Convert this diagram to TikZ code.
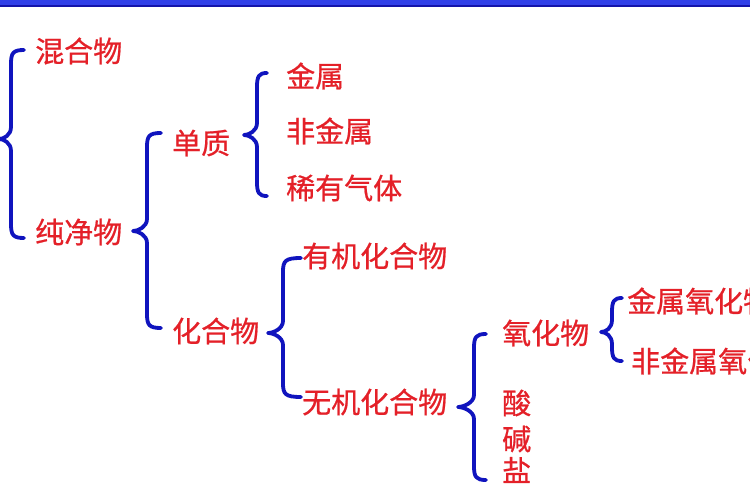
\documentclass[tikz,border=0pt]{standalone}
\usepackage{fontspec}
\newfontfamily\cjk[FakeBold=0.7]{Noto Sans CJK SC}
\definecolor{txtred}{RGB}{228,32,40}
\definecolor{braceblue}{RGB}{16,20,190}
\definecolor{barblue}{RGB}{48,64,232}
\definecolor{bardark}{RGB}{20,20,170}
\newcommand\mybrace[6]{% x, top, tip, bottom, tip dx, end dx
  \draw[bracestyle] ({#1+#6},#2) .. controls ({#1+2},#2) and (#1,{#2+3}) .. (#1,{#2+14})
    -- (#1,{#3-12}) .. controls (#1,{#3-4}) and ({#1-#5+5},#3) .. ({#1-#5},#3)
    .. controls ({#1-#5+5},#3) and (#1,{#3+4}) .. (#1,{#3+12})
    -- (#1,{#4-14}) .. controls (#1,{#4-3}) and ({#1+2},#4) .. ({#1+#6},#4);}
\tikzset{
  lbl/.style={anchor=west, inner sep=0pt, text=txtred, font=\cjk\fontsize{29}{29}\selectfont},
  bracestyle/.style={draw=braceblue, line width=3.8pt, line cap=round, line join=round}
}
\begin{document}
\begin{tikzpicture}[x=1pt,y=-1pt]
\useasboundingbox (0,0) rectangle (750,500);
\clip (0,0) rectangle (750,500);
\fill[white] (0,0) rectangle (750,500);
\fill[barblue] (0,0) rectangle (750,7);
\fill[bardark] (0,5) rectangle (750,7.5);
% labels
\node[lbl] (hunhe) at (35,51) {混合物};
\node[lbl] (chunjing) at (35,232) {纯净物};
\node[lbl] (danzhi) at (172,143) {单质};
\node[lbl] (huahe) at (172,331) {化合物};
\node[lbl] (jinshu) at (286,76) {金属};
\node[lbl] (feijinshu) at (286,131) {非金属};
\node[lbl] (xiyou) at (286,188) {稀有气体};
\node[lbl] (youji) at (302,256) {有机化合物};
\node[lbl] (wuji) at (302,402) {无机化合物};
\node[lbl] (yanghua) at (502,333) {氧化物};
\node[lbl] (suan) at (502,403) {酸};
\node[lbl] (jian) at (502,439) {碱};
\node[lbl] (yan) at (502,470) {盐};
\node[lbl] (jsyh) at (627,301) {金属氧化物};
\node[lbl] (fjsyh) at (631,361) {非金属氧化物};
% braces
\mybrace{11}{50}{139}{238}{12}{13}
\mybrace{147}{133}{231}{328}{14}{14}
\mybrace{257}{73}{135}{196}{13}{10}
\mybrace{283}{258}{333}{397}{15}{18}
\mybrace{474}{334}{407}{480}{16}{12}
\mybrace{612}{298}{332}{361}{11}{10}
\end{tikzpicture}
\end{document}
